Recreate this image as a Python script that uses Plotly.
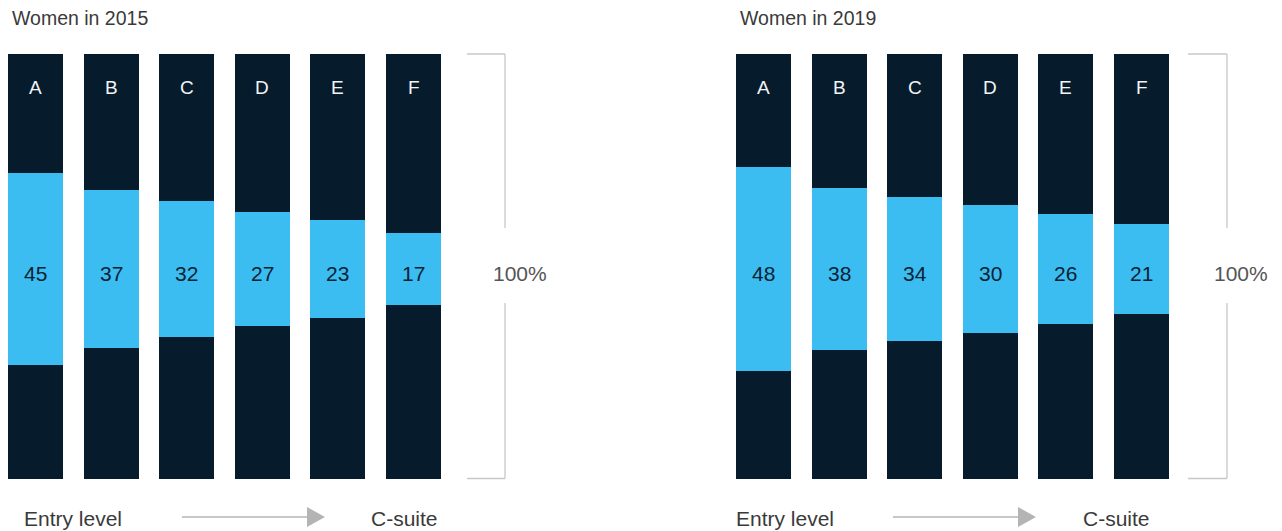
import plotly.graph_objects as go

levels = ["A", "B", "C", "D", "E", "F"]
women_2015 = [45, 37, 32, 27, 23, 17]
women_2019 = [48, 38, 34, 30, 26, 21]
panel_titles = ["Women in 2015", "Women in 2019"]
total_label = "100%"
start_label = "Entry level"
end_label = "C-suite"

DARK = "#061C2C"
BLUE = "#3BBDF2"
GREY_LINE = "#C8C8C8"
ARROW = "#B4B4B4"
TEXT = "#3A3A3A"
FONT = "Liberation Sans, Arial, sans-serif"

W, H = 1282, 531
UNIT = 75.6           # px per category step
BAR_W = 55 / UNIT
PX_PER_PCT = 4.25
Y0_PX = 479           # pixel row of value 0
y_lo = -(H - Y0_PX) / PX_PER_PCT
y_hi = y_lo + H / PX_PER_PCT
CENTER = (Y0_PX - 269) / PX_PER_PCT   # vertical centre of the highlighted segment


def px_x(px):
    return px / W


def px_y(py):
    return 1 - py / H


def v_of(py):
    return (Y0_PX - py) / PX_PER_PCT


fig = go.Figure()
panels = [
    dict(vals=women_2015, ax="x", ay="y", first_px=35.5, title_px=10,
         br=(467, 505), pct_px=520, entry_px=22, arr=(182, 307, 325), csuite_px=404),
    dict(vals=women_2019, ax="x2", ay="y2", first_px=763.5, title_px=738,
         br=(1188, 1227), pct_px=1241, entry_px=734, arr=(893, 1018, 1036), csuite_px=1116),
]

annotations = []
shapes = []
for i, p in enumerate(panels):
    xs = list(range(len(levels)))
    fig.add_trace(go.Bar(x=xs, y=[100] * len(xs), width=BAR_W, marker=dict(color=DARK, line=dict(width=0)),
                         xaxis=p["ax"], yaxis=p["ay"], hoverinfo="skip", showlegend=False))
    fig.add_trace(go.Bar(x=xs, y=p["vals"], base=[CENTER - v / 2 for v in p["vals"]], width=BAR_W,
                         marker=dict(color=BLUE, line=dict(width=0)),
                         xaxis=p["ax"], yaxis=p["ay"], showlegend=False,
                         hovertemplate="%{x}: %{y}%<extra></extra>"))
    for k, (lab, v) in enumerate(zip(levels, p["vals"])):
        annotations.append(dict(x=k, y=v_of(87), xref=p["ax"], yref=p["ay"], text=lab, showarrow=False,
                                font=dict(family=FONT, size=19, color="#F2F4F6"), xanchor="center", yanchor="middle"))
        annotations.append(dict(x=k, y=v_of(273), xref=p["ax"], yref=p["ay"], text=str(v), showarrow=False,
                                font=dict(family=FONT, size=21, color="#0A2233"), xanchor="center", yanchor="middle"))
    # titles
    annotations.append(dict(x=px_x(p["title_px"]), y=px_y(18), xref="paper", yref="paper", text=panel_titles[i],
                            showarrow=False, xanchor="left", yanchor="middle",
                            font=dict(family=FONT, size=19.5, color=TEXT)))
    # bracket
    bl, br = p["br"]
    shapes += [
        dict(type="line", xref="paper", yref="paper", x0=px_x(bl), x1=px_x(br), y0=px_y(54), y1=px_y(54),
             line=dict(color=GREY_LINE, width=1.3)),
        dict(type="line", xref="paper", yref="paper", x0=px_x(bl), x1=px_x(br), y0=px_y(478.5), y1=px_y(478.5),
             line=dict(color=GREY_LINE, width=1.3)),
        dict(type="line", xref="paper", yref="paper", x0=px_x(br), x1=px_x(br), y0=px_y(54), y1=px_y(228),
             line=dict(color=GREY_LINE, width=1.3)),
        dict(type="line", xref="paper", yref="paper", x0=px_x(br), x1=px_x(br), y0=px_y(303), y1=px_y(478.5),
             line=dict(color=GREY_LINE, width=1.3)),
    ]
    annotations.append(dict(x=px_x(p["pct_px"]), y=px_y(273), xref="paper", yref="paper", text=total_label,
                            showarrow=False, xanchor="center", yanchor="middle",
                            font=dict(family=FONT, size=21, color="#555555")))
    # bottom labels + arrow
    annotations.append(dict(x=px_x(p["entry_px"]), y=px_y(518), xref="paper", yref="paper", text=start_label,
                            showarrow=False, xanchor="left", yanchor="middle",
                            font=dict(family=FONT, size=21, color=TEXT)))
    annotations.append(dict(x=px_x(p["csuite_px"]), y=px_y(518), xref="paper", yref="paper", text=end_label,
                            showarrow=False, xanchor="center", yanchor="middle",
                            font=dict(family=FONT, size=21, color=TEXT)))
    a0, a1, a2 = p["arr"]
    shapes.append(dict(type="line", xref="paper", yref="paper", x0=px_x(a0), x1=px_x(a1), y0=px_y(517),
                       y1=px_y(517), line=dict(color=ARROW, width=1.3)))
    shapes.append(dict(type="path", xref="paper", yref="paper",
                       path=f"M {px_x(a1)} {px_y(507)} L {px_x(a2)} {px_y(517)} L {px_x(a1)} {px_y(527)} Z",
                       fillcolor=ARROW, line=dict(width=0)))

axis_common = dict(showgrid=False, zeroline=False, showticklabels=False, ticks="", showline=False, fixedrange=True)
p0, p1 = panels
fig.update_layout(
    width=W, height=H, margin=dict(l=0, r=0, t=0, b=0),
    paper_bgcolor="white", plot_bgcolor="white", barmode="overlay", bargap=0,
    xaxis=dict(domain=[0, 0.5], range=[-p0["first_px"] / UNIT, -p0["first_px"] / UNIT + 641 / UNIT], **axis_common),
    xaxis2=dict(domain=[0.5, 1], range=[-(p1["first_px"] - 641) / UNIT, -(p1["first_px"] - 641) / UNIT + 641 / UNIT],
                **axis_common),
    yaxis=dict(domain=[0, 1], range=[y_lo, y_hi], **axis_common),
    yaxis2=dict(domain=[0, 1], range=[y_lo, y_hi], anchor="x2", **axis_common),
    annotations=annotations, shapes=shapes,
)

fig.write_html("out.html", config={"displayModeBar": False},
               post_script="document.body.style.margin='0';document.body.style.overflow='hidden';")
